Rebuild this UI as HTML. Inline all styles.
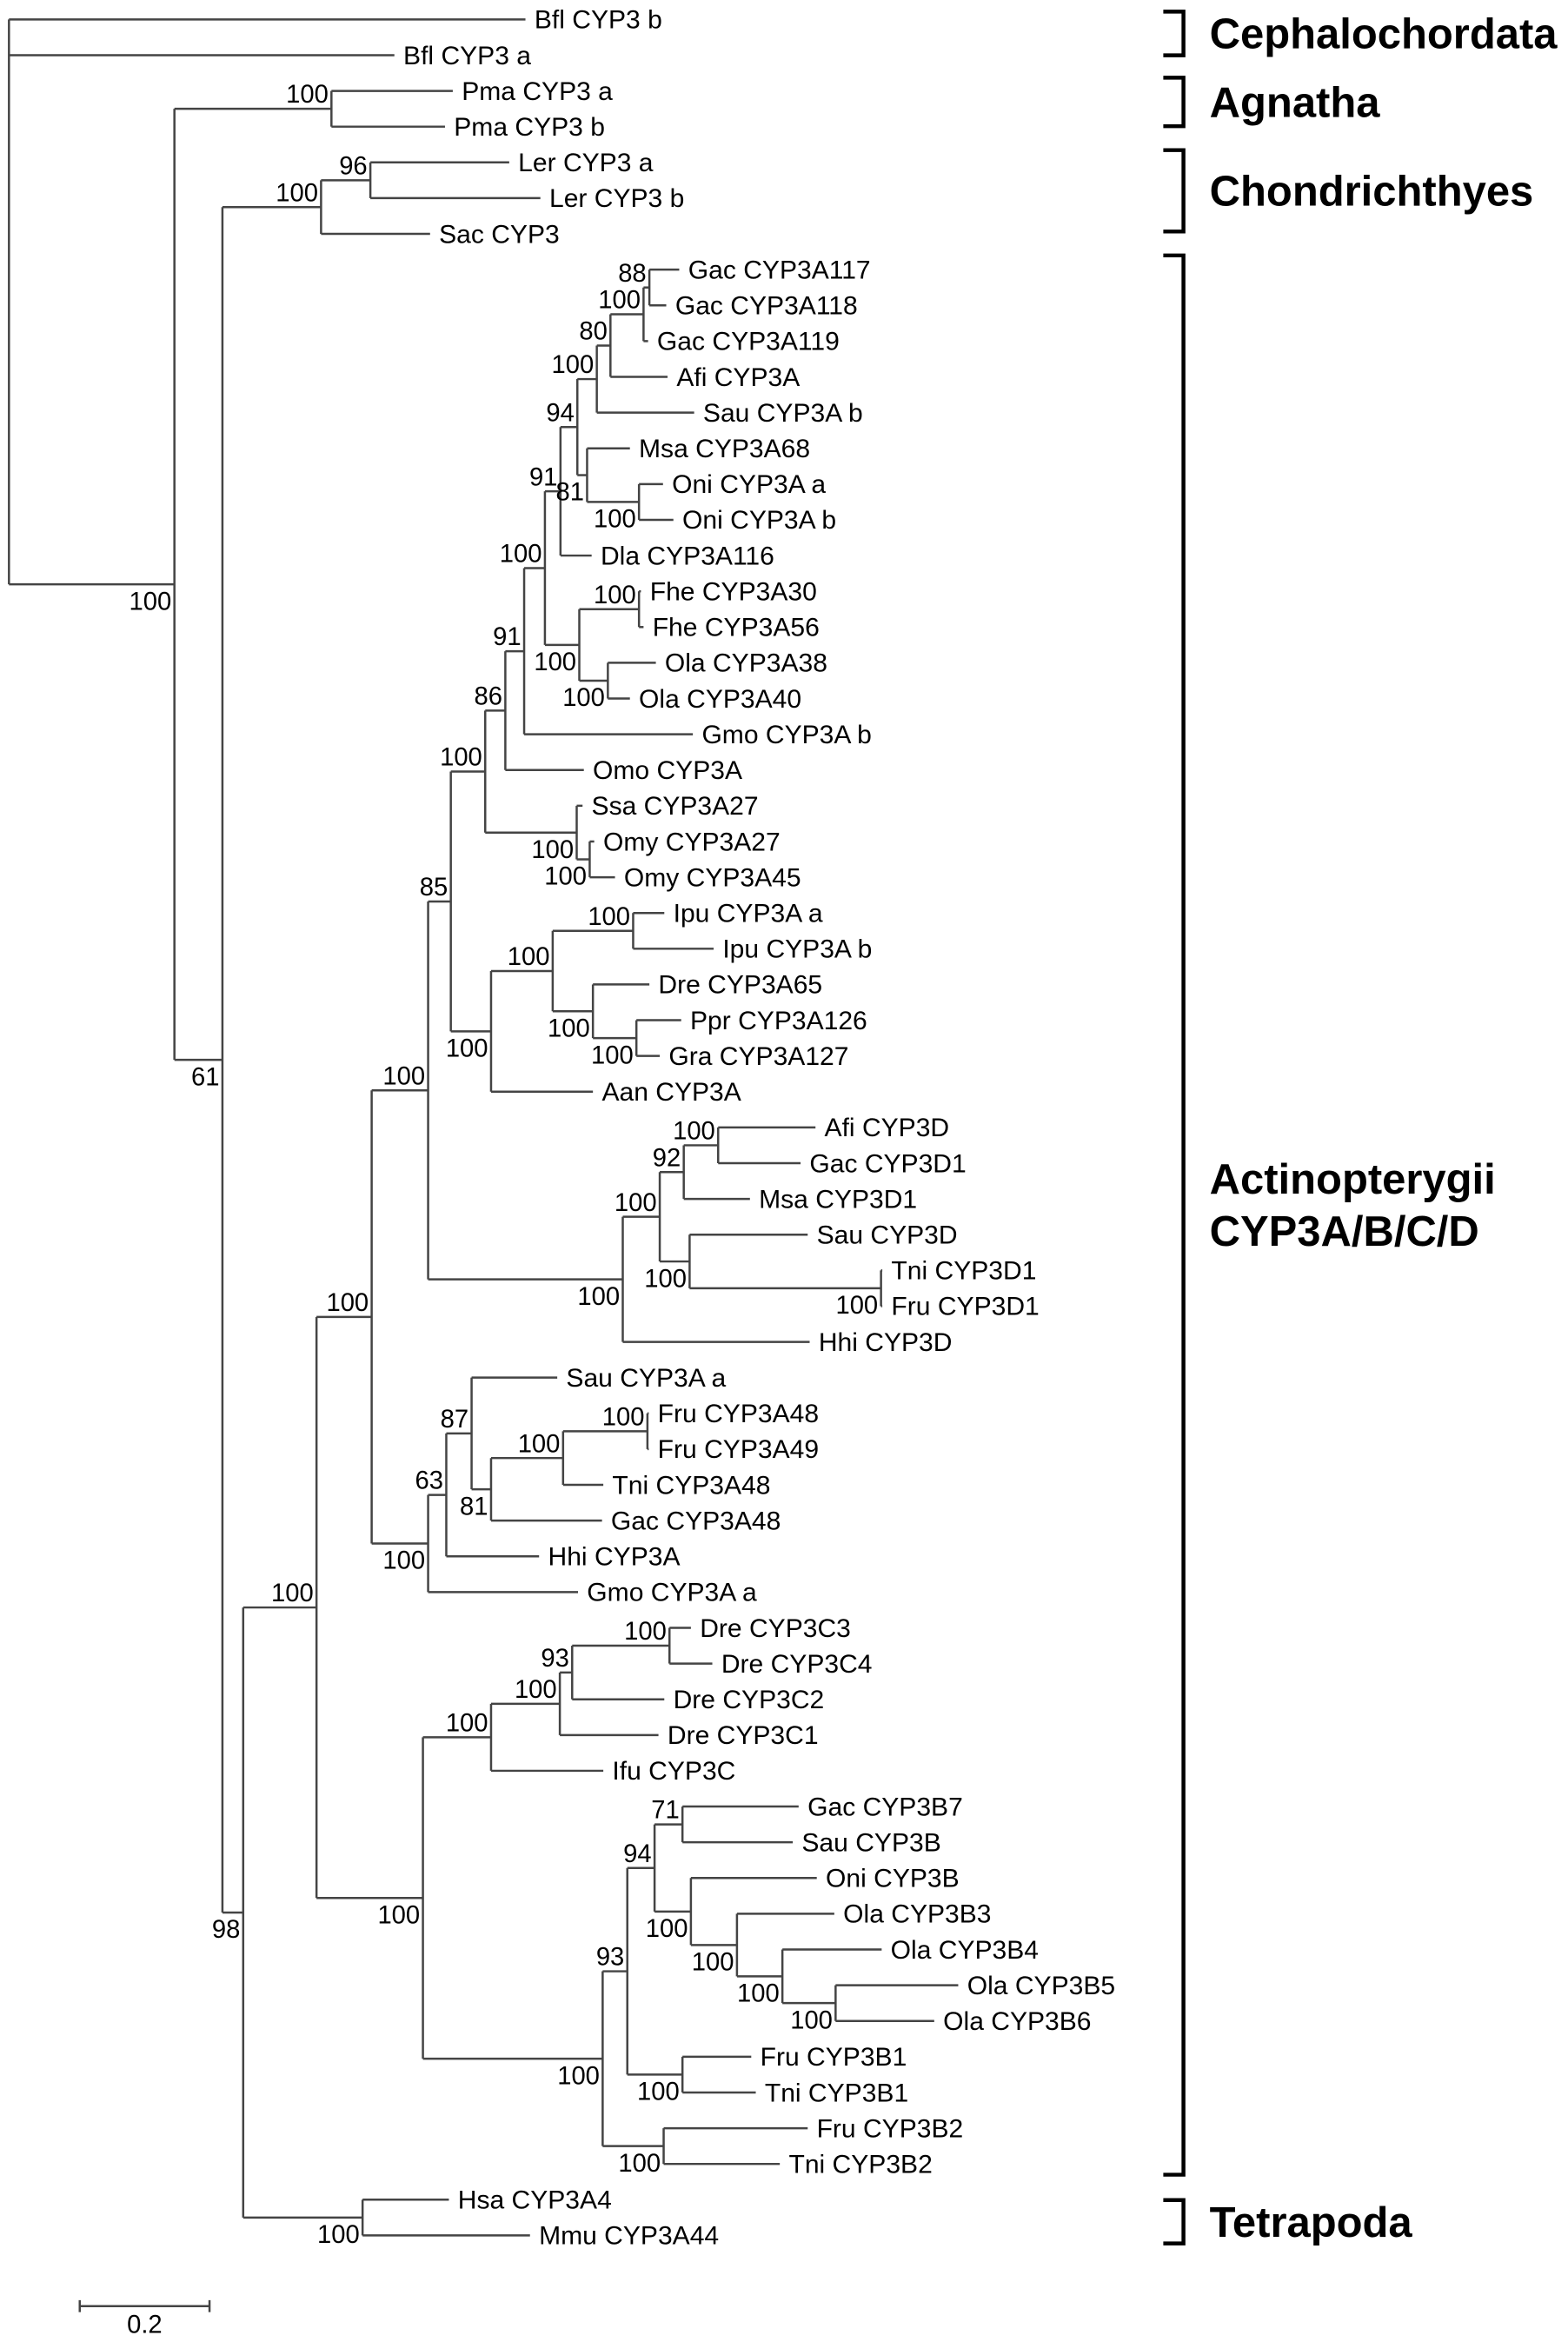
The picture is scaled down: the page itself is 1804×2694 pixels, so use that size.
<!DOCTYPE html>
<html><head><meta charset="utf-8"><style>
html,body{margin:0;padding:0;background:#fff}
svg{display:block}
text{font-family:"Liberation Sans",Arial,sans-serif}
</style></head><body>
<svg id="tree" width="1804" height="2694" viewBox="0 0 1050 1568" xmlns="http://www.w3.org/2000/svg">
<g id="branches"></g>
<g id="labels"></g>
<g id="boots"></g>
<g id="clades"></g>
<g id="scalebar"></g>
</svg>
<script>
// cumulative distance from root (substitutions/site), bootstrap, children
function N(d,b,c){return {d:d,b:b,c:c};}
function L(n,d){return {n:n,d:d};}
const treeData = N(0,null,[
  L("Bfl CYP3 b",0.796),
  L("Bfl CYP3 a",0.594),
  N(0.255,100,[
    N(0.497,100,[L("Pma CYP3 a",0.684),L("Pma CYP3 b",0.672)]),
    N(0.329,61,[
      N(0.481,100,[N(0.557,96,[L("Ler CYP3 a",0.771),L("Ler CYP3 b",0.819)]),L("Sac CYP3",0.649)]),
      N(0.361,98,[
        N(0.474,100,[
          N(0.559,100,[
            N(0.646,100,[
              N(0.681,85,[
                N(0.734,100,[
                  N(0.765,86,[
                    N(0.794,91,[
                      N(0.826,100,[
                        N(0.850,91,[
                          N(0.876,94,[
                            N(0.906,100,[
                              N(0.927,80,[
                                N(0.978,100,[
                                  N(0.987,88,[L("Gac CYP3A117",1.033),L("Gac CYP3A118",1.013)]),
                                  L("Gac CYP3A119",0.985)]),
                                L("Afi CYP3A",1.015)]),
                              L("Sau CYP3A b",1.056)]),
                            N(0.891,81,[L("Msa CYP3A68",0.957),N(0.971,100,[L("Oni CYP3A a",1.008),L("Oni CYP3A b",1.024)])])]),
                          L("Dla CYP3A116",0.898)]),
                        N(0.879,100,[
                          N(0.971,100,[L("Fhe CYP3A30",0.974),L("Fhe CYP3A56",0.978)]),
                          N(0.923,100,[L("Ola CYP3A38",0.997),L("Ola CYP3A40",0.957)])])]),
                      L("Gmo CYP3A b",1.054)]),
                    L("Omo CYP3A",0.886)]),
                  N(0.875,100,[L("Ssa CYP3A27",0.884),N(0.895,100,[L("Omy CYP3A27",0.902),L("Omy CYP3A45",0.934)])])]),
                N(0.743,100,[
                  N(0.838,100,[
                    N(0.962,100,[L("Ipu CYP3A a",1.010),L("Ipu CYP3A b",1.086)]),
                    N(0.900,100,[L("Dre CYP3A65",0.987),N(0.967,100,[L("Ppr CYP3A126",1.036),L("Gra CYP3A127",1.003)])])]),
                  L("Aan CYP3A",0.900)])]),
              N(0.946,100,[
                N(1.003,100,[
                  N(1.040,92,[N(1.093,100,[L("Afi CYP3D",1.243),L("Gac CYP3D1",1.220)]),L("Msa CYP3D1",1.142)]),
                  N(1.049,100,[L("Sau CYP3D",1.231),N(1.344,100,[L("Tni CYP3D1",1.346),L("Fru CYP3D1",1.346)])])]),
                L("Hhi CYP3D",1.234)])]),
            N(0.646,100,[
              N(0.674,63,[
                N(0.713,87,[
                  L("Sau CYP3A a",0.845),
                  N(0.743,81,[
                    N(0.854,100,[N(0.984,100,[L("Fru CYP3A48",0.986),L("Fru CYP3A49",0.986)]),L("Tni CYP3A48",0.916)]),
                    L("Gac CYP3A48",0.914)])]),
                L("Hhi CYP3A",0.817)]),
              L("Gmo CYP3A a",0.877)])]),
          N(0.638,100,[
            N(0.743,100,[
              N(0.849,100,[
                N(0.868,93,[N(1.018,100,[L("Dre CYP3C3",1.051),L("Dre CYP3C4",1.084)]),L("Dre CYP3C2",1.010)]),
                L("Dre CYP3C1",1.001)]),
              L("Ifu CYP3C",0.916)]),
            N(0.915,100,[
              N(0.953,93,[
                N(0.995,94,[
                  N(1.038,71,[L("Gac CYP3B7",1.217),L("Sau CYP3B",1.208)]),
                  N(1.051,100,[
                    L("Oni CYP3B",1.245),
                    N(1.122,100,[
                      L("Ola CYP3B3",1.272),
                      N(1.192,100,[
                        L("Ola CYP3B4",1.345),
                        N(1.274,100,[L("Ola CYP3B5",1.463),L("Ola CYP3B6",1.426)])])])])]),
                N(1.038,100,[L("Fru CYP3B1",1.144),L("Tni CYP3B1",1.151)])]),
              N(1.009,100,[L("Fru CYP3B2",1.231),L("Tni CYP3B2",1.188)])])])]),
        N(0.545,100,[L("Hsa CYP3A4",0.678),L("Mmu CYP3A44",0.803)])])])])]);

const cladeNames = ["Cephalochordata","Agnatha","Chondrichthyes","Actinopterygii CYP3A/B/C/D","Tetrapoda"];
const cladeTop = [7.8,52,100.5,171,1473];
const cladeBottom = [37,84.5,155,1456,1502];
const scaleValue = [0.2];
const scaleLabel = ["0.2"];

const NS="http://www.w3.org/2000/svg";
const X0=6, PXU=434.5, Y0=13, DY=23.93;
function xS(d){return X0+d*PXU;}
function yS(i){return Y0+i*DY;}
function mk(tag,attrs,parent){const e=document.createElementNS(NS,tag);for(const k in attrs)e.setAttribute(k,attrs[k]);parent.appendChild(e);return e;}

const gB=document.getElementById('branches'),gL=document.getElementById('labels'),gT=document.getElementById('boots'),gC=document.getElementById('clades'),gS=document.getElementById('scalebar');
let leafIdx=0;
function layout(n){
  if(!n.c){n.y=yS(leafIdx++);return;}
  n.c.forEach(layout);
  n.y=(n.c[0].y+n.c[n.c.length-1].y)/2;
}
layout(treeData);
const stroke={stroke:"#444","stroke-width":1.45,fill:"none"};
function draw(n,parent,isFirst){
  const x=xS(n.d);
  if(parent){
    const h=mk('line',Object.assign({x1:xS(parent.d),y1:n.y,x2:x,y2:n.y},stroke),gB);
    
    
  }
  if(!n.c){
    const t=mk('text',{x:x+6,y:n.y+6,'font-size':17.5,fill:'#000'},gL);
    t.textContent=n.n;
    
    
    return;
  }
  const v=mk('line',Object.assign({x1:x,y1:n.c[0].y,x2:x,y2:n.c[n.c.length-1].y},stroke),gB);
  
  
  if(n.b!==null&&parent){
    const t=mk('text',{x:x-2,y:isFirst?n.y-4:n.y+17,'font-size':17,'text-anchor':'end',fill:'#000'},gT);
    t.textContent=String(n.b);
    
    
  }
  n.c.forEach((c,i)=>draw(c,n,i===0));
}
draw(treeData,null,true);

// clade brackets
cladeNames.forEach((nm,i)=>{
  const p=mk('path',{d:`M779 ${cladeTop[i]} H792.5 V${cladeBottom[i]} H779`,stroke:'#000','stroke-width':2.6,fill:'none'},gC);
  
  
  const lines=nm==="Actinopterygii CYP3A/B/C/D"?["Actinopterygii","CYP3A/B/C/D"]:[nm];
  const baseY = lines.length===2 ? [799,834] : [(cladeTop[i]+cladeBottom[i])/2+10];
  lines.forEach((ln,j)=>{
    const t=mk('text',{x:810,y:baseY[j],'font-size':28.5,'font-weight':'bold',fill:'#000'},gC);
    t.textContent=ln;
    
    
  });
});

// scale bar
const sb0=53.4, sbLen=scaleValue[0]*PXU, sby=1544;
const sb=mk('path',{d:`M${sb0} ${sby} H${sb0+sbLen} M${sb0} ${sby-4} V${sby+4} M${sb0+sbLen} ${sby-4} V${sby+4}`,stroke:'#444','stroke-width':1.45,fill:'none'},gS);


const st=mk('text',{x:sb0+sbLen/2,y:1562,'font-size':17,'text-anchor':'middle',fill:'#000'},gS);
st.textContent=scaleLabel[0];


</script>
</body></html>
